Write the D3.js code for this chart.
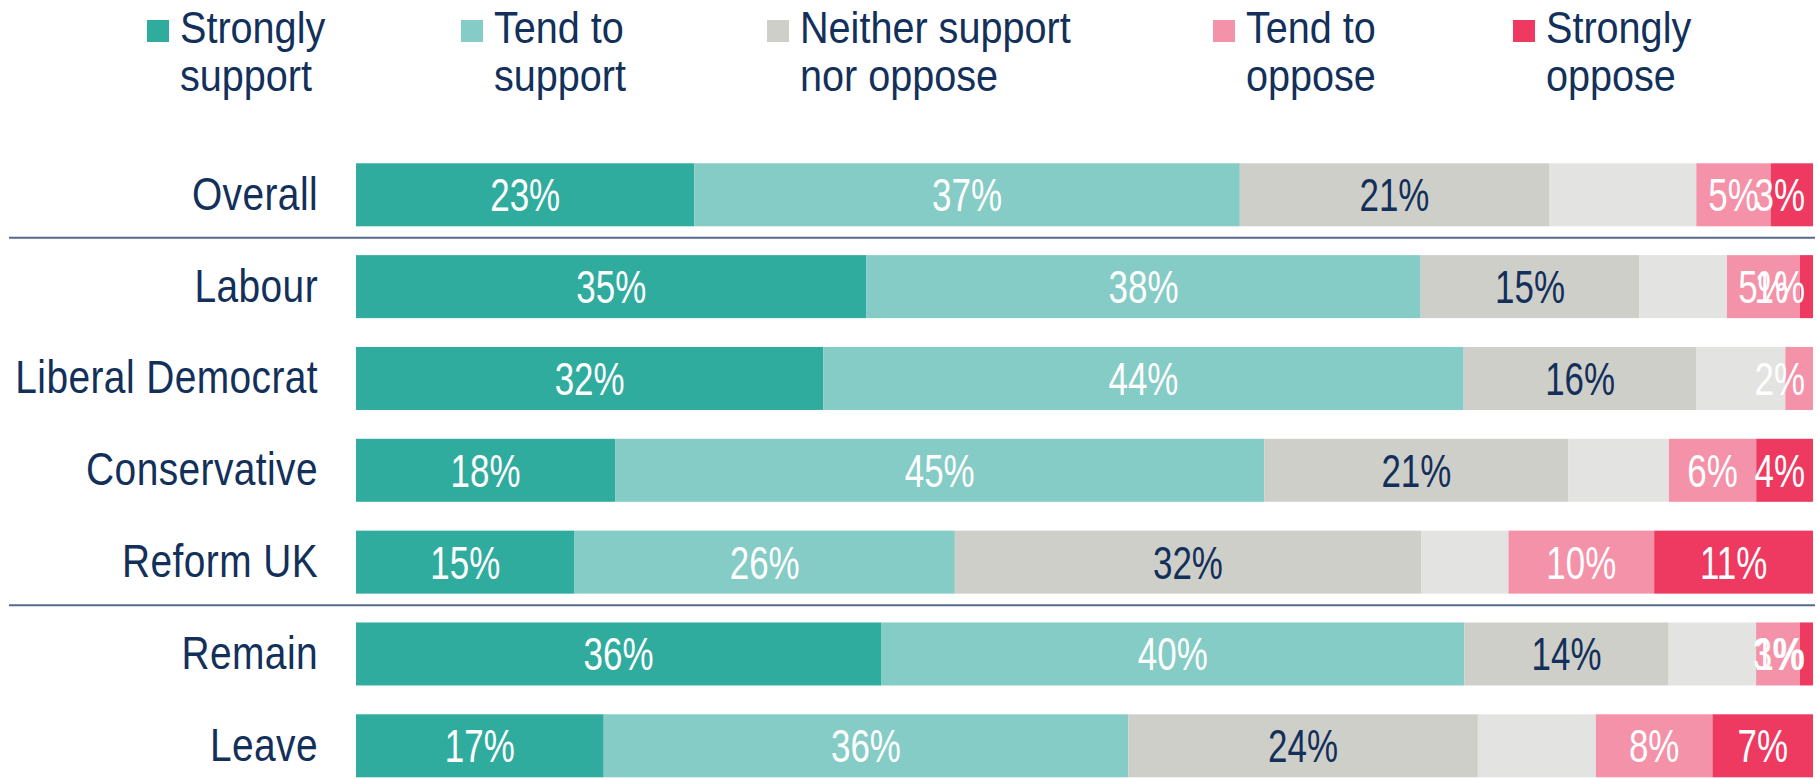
<!DOCTYPE html>
<html>
<head>
<meta charset="utf-8">
<script src="https://cdn.jsdelivr.net/npm/d3@7"></script>
<style>
  body { margin: 0; background: #fff; }
  text { font-family: "Liberation Sans", Arial, sans-serif; }
</style>
</head>
<body>
<div id="chart"></div>
<script>
// categories, top to bottom
var categories = ["Overall", "Labour", "Liberal Democrat", "Conservative", "Reform UK", "Remain", "Leave"];
// response series, left to right ("Don't know" is drawn but not in the legend)
var seriesKeys = ["ss", "ts", "nn", "dk", "to", "so"];
var legendLabels = [["Strongly", "support"], ["Tend to", "support"], ["Neither support", "nor oppose"], ["Tend to", "oppose"], ["Strongly", "oppose"]];

var stronglySupport = [23.2, 35.0, 32.1, 17.8, 15.0, 36.0, 17.0];
var tendSupport     = [37.4, 38.0, 44.0, 44.6, 26.1, 40.0, 36.0];
var neither         = [21.2, 15.0, 16.0, 20.9, 32.0, 14.0, 24.0];
var dontKnow        = [10.1, 6.0, 6.1, 6.9, 6.0, 6.0, 8.1];
var tendOppose      = [5.1, 5.0, 1.9, 6.0, 10.0, 3.0, 8.0];
var stronglyOppose  = [2.9, 0.9, 0, 3.9, 10.9, 0.9, 6.9];

// rows after which a divider is drawn
var dividersAfter = ["Overall", "Reform UK"];

var colors = {ss: "#30ac9e", ts: "#84ccc5", nn: "#cfcfca", dk: "#e3e3e1", to: "#f492a9", so: "#ee3961"};
var labelColor = {ss: "#fff", ts: "#fff", nn: "#13305a", dk: null, to: "#fff", so: "#fff"};
var navy = "#13305a";

var W = 1818, H = 779;
var margin = {left: 356, right: 5, top: 163.3, bottom: 1.7};
var labelSqueeze = 0.76;

var rows = categories.map(function(c, i) {
  return {cat: c, ss: stronglySupport[i], ts: tendSupport[i], nn: neither[i],
          dk: dontKnow[i], to: tendOppose[i], so: stronglyOppose[i]};
});
// 100% stacked: normalise each row to its own total
rows.forEach(function(r) {
  var t = d3.sum(seriesKeys, function(k) { return r[k]; });
  seriesKeys.forEach(function(k) { r[k] = r[k] / t * 100; });
});
var raw = {ss: stronglySupport, ts: tendSupport, nn: neither, dk: dontKnow, to: tendOppose, so: stronglyOppose};

var stack = d3.stack().keys(seriesKeys)(rows);

var x = d3.scaleLinear().domain([0, 100]).range([margin.left, W - margin.right]);
var y = d3.scaleBand().domain(categories)
  .range([margin.top, H - margin.bottom])
  .paddingInner(0.314).paddingOuter(0);

var svg = d3.select("#chart").append("svg")
  .attr("width", W).attr("height", H);

// bars
var layers = svg.selectAll(".layer")
  .data(stack).enter()
  .append("g")
  .attr("class", "layer")
  .attr("fill", function(d) { return colors[d.key]; });

layers.selectAll("rect")
  .data(function(d) { return d; })
  .enter().append("rect")
  .attr("x", function(d) { return x(d[0]); })
  .attr("y", function(d) { return y(d.data.cat); })
  .attr("width", function(d) { return Math.max(0, x(d[1]) - x(d[0])); })
  .attr("height", y.bandwidth());

// value labels (condensed look via horizontal squeeze), kept inside the bar end
stack.forEach(function(layer) {
  if (!labelColor[layer.key]) return;
  svg.append("g").selectAll("text")
    .data(layer.filter(function(d, i) { return raw[layer.key][i] > 0; }))
    .enter().append("text")
    .attr("text-anchor", "middle")
    .attr("font-size", 46)
    .attr("fill", labelColor[layer.key])
    .text(function(d) { return Math.round(raw[layer.key][categories.indexOf(d.data.cat)]) + "%"; })
    .attr("transform", function(d) {
      var half = this.getComputedTextLength() * labelSqueeze / 2;
      var cx = Math.min((x(d[0]) + x(d[1])) / 2, x(100) - 8 - half);
      var cy = y(d.data.cat) + y.bandwidth() / 2 + 16.5;
      return "translate(" + cx + "," + cy + ") scale(" + labelSqueeze + ",1)";
    });
});

// category labels
var yAxis = d3.axisLeft(y).tickSize(0).tickPadding(0);
var ax = svg.append("g")
  .attr("transform", "translate(318,0)")
  .call(yAxis);
ax.select(".domain").remove();
ax.selectAll(".tick text")
  .attr("font-size", 46)
  .attr("fill", navy)
  .attr("letter-spacing", 0.5)
  .attr("dy", null)
  .attr("x", 0)
  .attr("y", 15)
  .attr("transform", "scale(0.845,1)")
  .style("font-family", "'Liberation Sans', Arial, sans-serif");

// dividers
svg.selectAll(".divider")
  .data(dividersAfter).enter()
  .append("line")
  .attr("x1", 9).attr("x2", 1815)
  .attr("y1", function(d) { return y(d) + y.bandwidth() + 11.5; })
  .attr("y2", function(d) { return y(d) + y.bandwidth() + 11.5; })
  .attr("stroke", "#56698a")
  .attr("stroke-width", 2);

// legend
var legendX = [147, 461, 767, 1213, 1513];
var legendKeys = ["ss", "ts", "nn", "to", "so"];
var lg = svg.selectAll(".legend")
  .data(legendKeys).enter()
  .append("g")
  .attr("transform", function(d, i) { return "translate(" + legendX[i] + ",0)"; });
lg.append("rect")
  .attr("x", 0).attr("y", 20)
  .attr("width", 22).attr("height", 22)
  .attr("fill", function(d) { return colors[d]; });
lg.append("text")
  .attr("transform", "translate(33,0) scale(0.88,1)")
  .attr("font-size", 45)
  .attr("fill", navy)
  .selectAll("tspan")
  .data(function(d, i) { return legendLabels[i]; })
  .enter().append("tspan")
  .attr("x", 0)
  .attr("y", function(d, i) { return 43 + i * 48; })
  .text(function(d) { return d; });
</script>
</body>
</html>
